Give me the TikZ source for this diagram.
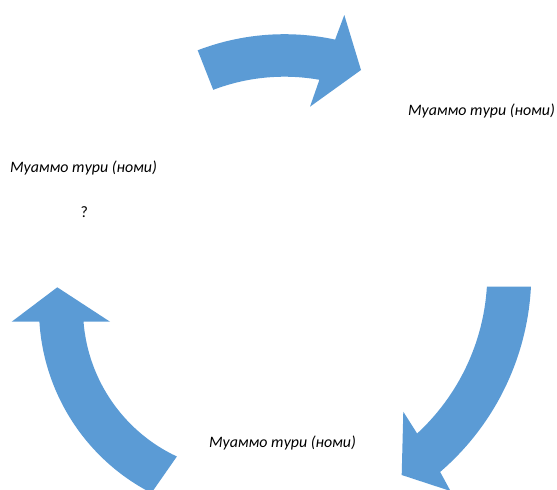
\documentclass[tikz,border=0pt]{standalone}
\usepackage{fontspec}
\setmainfont{Carlito}
\usetikzlibrary{calc}
\definecolor{cycleblue}{RGB}{91,155,213}

\begin{document}
\begin{tikzpicture}[
   x=1pt,
   y=-1pt,
   line join=miter,
   every node/.style={font=\fontsize{15.9}{19}\selectfont,inner sep=0pt},
   cyclearrow/.style={fill=cycleblue},
   steplabel/.style={font=\fontsize{15.9}{19}\selectfont\itshape,anchor=base}
 ]
   \useasboundingbox (0,0) rectangle (557,490);
   \clip (0,0) rectangle (557,490);

   % Centres of the three arc-shaped arrows.
   \coordinate (ctop) at (284.4,276.2);
   \coordinate (cright) at (269.3,273.3);
   \coordinate (cleft) at (246,308.9);

   % Top arrow, pointing to the right.
   \fill[cyclearrow]
     ($(ctop)+(-110.9:199.5)$) arc[start angle=-110.9,end angle=-79.9,radius=199.5]
     -- (310,106.7) -- (361,70) -- (344.3,15)
     -- ($(ctop)+(-77.9:242)$) arc[start angle=-77.9,end angle=-111,radius=242]
     -- cycle;

   % Lower right arrow, pointing down and to the left.
   \fill[cyclearrow]
     ($(cright)+(3.5:218)$) arc[start angle=3.5,end angle=47.3,radius=218]
     -- (403.3,411.7) -- (401.7,475) -- (450.5,491)
     -- ($(cright)+(49.3:262)$) arc[start angle=49.3,end angle=2.9,radius=262]
     -- cycle;

   % Left arrow, pointing up.
   \fill[cyclearrow]
     ($(cleft)+(115.1:163)$) arc[start angle=115.1,end angle=175.5,radius=163]
     -- (110,321.7) -- (57.3,287.3) -- (11.7,321.7)
     -- ($(cleft)+(176.5:207)$) arc[start angle=176.5,end angle=117.2,radius=207]
     -- cycle;

   % Labels of the three stages.
   \node[steplabel] (stepa) at (481.5,115.7) {Муаммо тури (номи)};
   \node[steplabel] (stepb) at (282.5,447.3) {Муаммо тури (номи)};
   \node[steplabel] (stepc) at (83.5,172.3) {Муаммо тури (номи)};
   \node[anchor=base] (quest) at (84.3,217.3) {?};
 \end{tikzpicture}
\end{document}
